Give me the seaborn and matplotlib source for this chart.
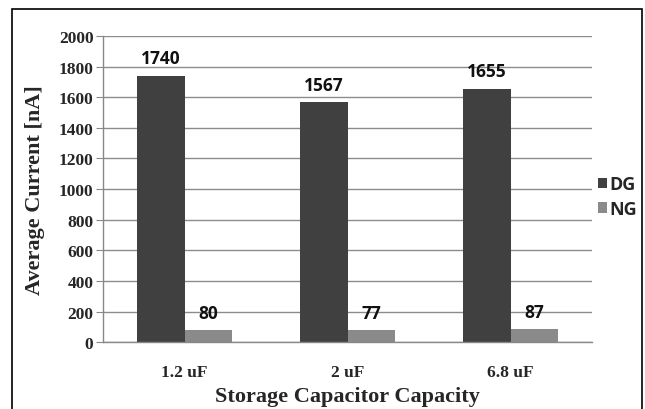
import pandas as pd
import seaborn as sns
import matplotlib.pyplot as plt
from matplotlib.patches import Rectangle

# values
capacitors = ["1.2 uF", "2 uF", "6.8 uF"]
dg_current = [1740, 1567, 1655]
ng_current = [80, 77, 87]
groups = ["DG", "NG"]
yticks = [0, 200, 400, 600, 800, 1000, 1200, 1400, 1600, 1800, 2000]

df = pd.DataFrame({
    "cap": capacitors * 2,
    "current": dg_current + ng_current,
    "group": [groups[0]] * 3 + [groups[1]] * 3,
})

sns.set_style("white")
fig = plt.figure(figsize=(6.45, 4.1), dpi=100)
ax = fig.add_axes([0.160, 0.163, 0.758, 0.747])

sns.barplot(data=df, x="cap", y="current", hue="group", order=capacitors,
            hue_order=groups, palette=["#404040", "#8a8a8a"], width=0.58,
            gap=0, saturation=1, linewidth=0, ax=ax)

for c in ax.containers:
    ax.bar_label(c, padding=6, fontsize=12.5, fontweight="bold",
                 family="Open Sans", color="#111111")

ax.set_ylim(0, 2000)
ax.set_xlim(-0.5, 2.5)
ax.set_yticks(yticks)
ax.set_yticklabels([str(v) for v in yticks], family="Liberation Serif",
                   fontweight="bold", fontsize=12.5)
ax.set_xticks(range(3))
ax.set_xticklabels(capacitors, family="Liberation Serif", fontweight="bold",
                   fontsize=12.5)
ax.set_xticks([-0.5, 0.5, 1.5, 2.5], minor=True)
ax.tick_params(axis="x", which="major", length=0, pad=16)
ax.tick_params(axis="x", which="minor", length=5, color="#888888", direction="out")
ax.tick_params(axis="y", length=5, color="#888888", direction="out", pad=2, left=True)

ax.yaxis.grid(True, color="#8c8c8c", linewidth=1)
ax.set_axisbelow(True)
for s in ["top", "right"]:
    ax.spines[s].set_visible(False)
for s in ["left", "bottom"]:
    ax.spines[s].set_color("#888888")
    ax.spines[s].set_linewidth(1)

ax.set_xlabel("Storage Capacitor Capacity", family="Liberation Serif",
              fontweight="bold", fontsize=16, labelpad=4)
ax.set_ylabel("Average Current [nA]", family="Liberation Serif",
              fontweight="bold", fontsize=16, labelpad=10)

ax.legend_.remove()
handles, labels = ax.get_legend_handles_labels()
fig.legend(handles, labels, loc="center left", bbox_to_anchor=(598 / 645, 0.518),
           frameon=False, borderpad=0, borderaxespad=0,
           handlelength=0.5, handleheight=0.5, handletextpad=0.15,
           labelspacing=0.35,
           prop={"family": "Open Sans", "weight": "bold", "size": 13})

# frame around the whole chart (bottom edge cut off in the original)
fig.patches.append(Rectangle((12 / 645, -0.05), 630 / 645, 1.05 - 10 / 410,
                             transform=fig.transFigure, fill=False,
                             edgecolor="black", linewidth=1.2))

fig.savefig("out.png", dpi=100)
